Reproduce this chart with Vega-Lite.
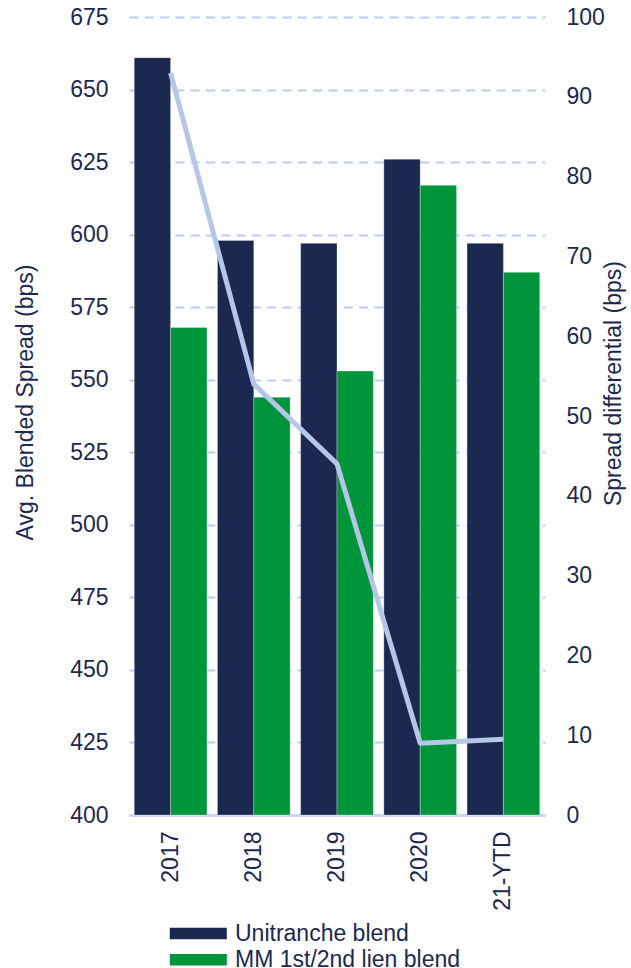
{
  "$schema": "https://vega.github.io/schema/vega-lite/v6.json",
  "autosize": {"type": "none"},
  "padding": {"left": 129, "top": 17, "right": 86, "bottom": 153},
  "width": 416,
  "height": 798,
  "config": {
    "font": "Liberation Sans",
    "view": {"stroke": null},
    "axis": {
      "labelFont": "Liberation Sans",
      "titleFont": "Liberation Sans",
      "labelFontSize": 23,
      "titleFontSize": 23,
      "labelColor": "#1b2951",
      "titleColor": "#1b2951",
      "titleFontWeight": "normal",
      "ticks": false
    },
    "legend": {
      "labelFont": "Liberation Sans",
      "labelFontSize": 23,
      "labelColor": "#1b2951",
      "labelLimit": 400
    }
  },
  "datasets": {
    "spreads": [
      {"year": "2017", "series": "Unitranche blend", "bps": 661},
      {"year": "2017", "series": "MM 1st/2nd lien blend", "bps": 568},
      {"year": "2018", "series": "Unitranche blend", "bps": 598},
      {"year": "2018", "series": "MM 1st/2nd lien blend", "bps": 544},
      {"year": "2019", "series": "Unitranche blend", "bps": 597},
      {"year": "2019", "series": "MM 1st/2nd lien blend", "bps": 553},
      {"year": "2020", "series": "Unitranche blend", "bps": 626},
      {"year": "2020", "series": "MM 1st/2nd lien blend", "bps": 617},
      {"year": "21-YTD", "series": "Unitranche blend", "bps": 597},
      {"year": "21-YTD", "series": "MM 1st/2nd lien blend", "bps": 587}
    ],
    "differential": [
      {"year": "2017", "diff": 93},
      {"year": "2018", "diff": 54},
      {"year": "2019", "diff": 44},
      {"year": "2020", "diff": 9},
      {"year": "21-YTD", "diff": 9.5}
    ]
  },
  "encoding": {
    "x": {
      "field": "year",
      "type": "nominal",
      "sort": ["2017", "2018", "2019", "2020", "21-YTD"],
      "scale": {"paddingInner": 0.126, "paddingOuter": 0.063},
      "axis": {
        "title": null,
        "labelAngle": -90,
        "labelAlign": "right",
        "labelBaseline": "middle",
        "labelPadding": 16,
        "domainColor": "#cbd7f1",
        "domainWidth": 3,
        "grid": false
      }
    }
  },
  "layer": [
    {
      "data": {"name": "spreads"},
      "mark": {"type": "bar", "stroke": "#ffffff", "strokeOpacity": 0.3, "strokeWidth": 1},
      "encoding": {
        "xOffset": {
          "field": "series",
          "type": "nominal",
          "sort": ["Unitranche blend", "MM 1st/2nd lien blend"],
          "scale": {"paddingInner": 0, "paddingOuter": 0}
        },
        "y": {
          "field": "bps",
          "type": "quantitative",
          "scale": {"domain": [400, 675], "zero": false, "nice": false},
          "axis": {
            "values": [400, 425, 450, 475, 500, 525, 550, 575, 600, 625, 650, 675],
            "title": "Avg. Blended Spread (bps)",
            "titleAngle": 270,
            "titleAlign": "center",
            "titleBaseline": "alphabetic",
            "titleX": -97,
            "titleY": 385,
            "labelPadding": 21,
            "domain": false,
            "grid": true,
            "gridColor": "#bccbee",
            "gridWidth": 2,
            "gridDash": [9, 6.3]
          }
        },
        "y2": {"datum": 400},
        "color": {
          "field": "series",
          "type": "nominal",
          "sort": ["Unitranche blend", "MM 1st/2nd lien blend"],
          "scale": {
            "domain": ["Unitranche blend", "MM 1st/2nd lien blend"],
            "range": ["#1b2951", "#00953b"]
          },
          "legend": {
            "title": null,
            "orient": "none",
            "legendX": 57.8,
            "legendY": 905,
            "padding": 0,
            "rowPadding": 2.3,
            "symbolType": "M-5,-1H5V1H-5Z",
            "symbolSize": 130,
            "symbolStrokeWidth": 0,
            "symbolOpacity": 1,
            "labelOffset": 25.2
          }
        }
      }
    },
    {
      "data": {"name": "differential"},
      "mark": {"type": "line", "color": "#b4c7e7", "strokeWidth": 5, "strokeJoin": "round", "strokeCap": "butt"},
      "encoding": {
        "y": {
          "field": "diff",
          "type": "quantitative",
          "scale": {"domain": [0, 100], "nice": false},
          "axis": {
            "orient": "right",
            "values": [0, 10, 20, 30, 40, 50, 60, 70, 80, 90, 100],
            "title": "Spread differential (bps)",
            "titleAngle": 270,
            "titleAlign": "center",
            "titleBaseline": "alphabetic",
            "titleX": 75,
            "titleY": 366,
            "labelPadding": 21,
            "domain": false,
            "grid": false
          }
        }
      }
    }
  ],
  "resolve": {"scale": {"y": "independent"}}
}
